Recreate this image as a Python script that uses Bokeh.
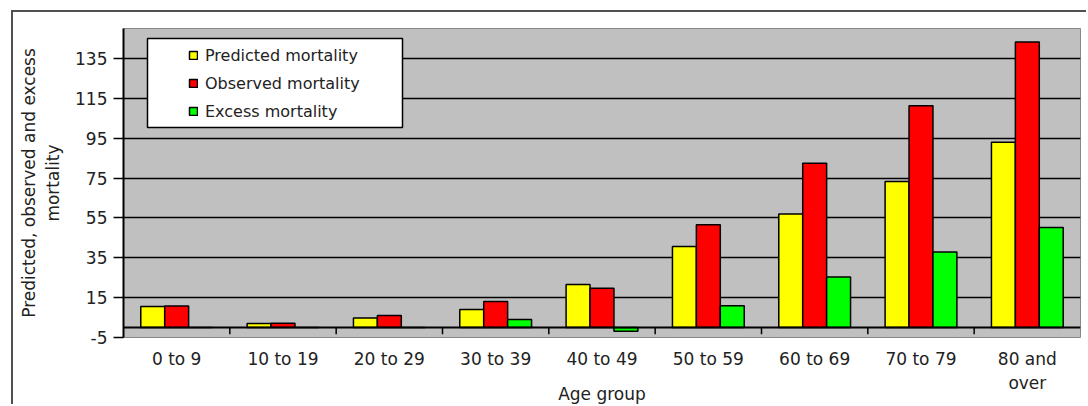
import numpy as np
from bokeh.plotting import figure
from bokeh.models import (ColumnDataSource, Range1d, FixedTicker, Legend, LegendItem,
                          Span, BoxAnnotation)
from bokeh.transform import dodge
from bokeh.embed import file_html
from bokeh.resources import INLINE

# ---- data ----
age_groups = ["0 to 9", "10 to 19", "20 to 29", "30 to 39", "40 to 49",
              "50 to 59", "60 to 69", "70 to 79", "80 and\nover"]
predicted = [10.5, 2.0, 4.8, 9.0, 21.6, 40.6, 57.0, 73.3, 93.0]
observed = [10.8, 2.1, 6.0, 13.0, 19.7, 51.5, 82.4, 111.2, 143.2]
excess = [0.0, 0.0, 0.0, 4.0, -1.9, 10.9, 25.4, 37.9, 50.2]
y_ticks = [-5, 15, 35, 55, 75, 95, 115, 135]
series_names = ["Predicted mortality", "Observed mortality", "Excess mortality"]
series_colors = ["#FFFF00", "#FF0000", "#00FF00"]

FONT = "DejaVu Sans"
n = len(age_groups)
xc = np.arange(n) + 0.5
src = ColumnDataSource(dict(x=xc, predicted=predicted, observed=observed, excess=excess))

p = figure(width=1075, height=394, x_range=Range1d(0, n), y_range=Range1d(-5, 150),
           output_backend="svg", toolbar_location=None,
           min_border_left=110, min_border_right=8, min_border_top=16, min_border_bottom=69,
           background_fill_color="#C0C0C0", border_fill_color="white",
           margin=(10, 0, 0, 11),
           styles={"border-left": "2px solid #505050", "border-top": "2px solid #505050"})
p.outline_line_color = "#888888"
p.outline_line_width = 1

# grid
p.xgrid.visible = False
p.ygrid.ticker = FixedTicker(ticks=[t for t in y_ticks if t > -5])
p.ygrid.grid_line_color = "black"
p.ygrid.grid_line_width = 1.5

# bars
bw = 0.225
cols = ["predicted", "observed", "excess"]
offs = [-bw, 0.0, bw]
rends = []
for c, o, col in zip(cols, offs, series_colors):
    r = p.vbar(x=dodge("x", o), top=c, bottom=0, width=bw, source=src,
               fill_color=col, line_color="black", line_width=1.5)
    rends.append(r)

# baseline at zero and category boundary ticks
p.add_layout(Span(location=0, dimension="width", line_color="black", line_width=2))
bounds = np.arange(1, n)
p.segment(x0=bounds, x1=bounds, y0=[0] * len(bounds), y1=[-3.4] * len(bounds),
          line_color="black", line_width=1.5)

# y axis
yax = p.yaxis[0]
yax.ticker = FixedTicker(ticks=y_ticks)
yax.major_label_overrides = {t: str(t) for t in y_ticks}
yax.axis_line_color = "black"
yax.axis_line_width = 2
yax.major_tick_out = 10
yax.major_tick_in = 0
yax.major_tick_line_width = 1.5
yax.minor_tick_line_color = None
yax.major_label_standoff = 6
yax.major_label_text_font = FONT
yax.major_label_text_font_size = "17px"
yax.major_label_text_color = "#222222"
yax.axis_label = "Predicted, observed and excess\nmortality"
yax.axis_label_text_font = FONT
yax.axis_label_text_font_size = "17px"
yax.axis_label_text_font_style = "normal"
yax.axis_label_text_color = "#222222"
yax.axis_label_standoff = 9

# x axis
xax = p.xaxis[0]
xax.ticker = FixedTicker(ticks=list(xc))
xax.major_label_overrides = {float(x): lab for x, lab in zip(xc, age_groups)}
xax.axis_line_color = None
xax.major_tick_line_color = None
xax.minor_tick_line_color = None
xax.major_label_standoff = 5
xax.major_label_text_font = FONT
xax.major_label_text_font_size = "17px"
xax.major_label_text_color = "#222222"
xax.axis_label = "Age group"
xax.axis_label_text_font = FONT
xax.axis_label_text_font_size = "17px"
xax.axis_label_text_font_style = "normal"
xax.axis_label_text_color = "#222222"
xax.axis_label_standoff = -12

# legend box + legend
p.add_layout(BoxAnnotation(left=24, right=279, bottom=210, top=299,
                           left_units="screen", right_units="screen",
                           bottom_units="screen", top_units="screen",
                           fill_color="white", fill_alpha=1.0,
                           line_color="black", line_width=1.5, line_alpha=1.0))
legend = Legend(items=[LegendItem(label=nm, renderers=[r]) for nm, r in zip(series_names, rends)],
                location=(65, 216), orientation="vertical",
                background_fill_alpha=0, border_line_color=None,
                padding=0, margin=0, spacing=8,
                glyph_width=10, glyph_height=10, label_standoff=7, label_height=20,
                label_text_font=FONT, label_text_font_size="16px", label_text_color="#222222")
p.add_layout(legend, "center")

open("out.html", "w").write(file_html(p, INLINE))
